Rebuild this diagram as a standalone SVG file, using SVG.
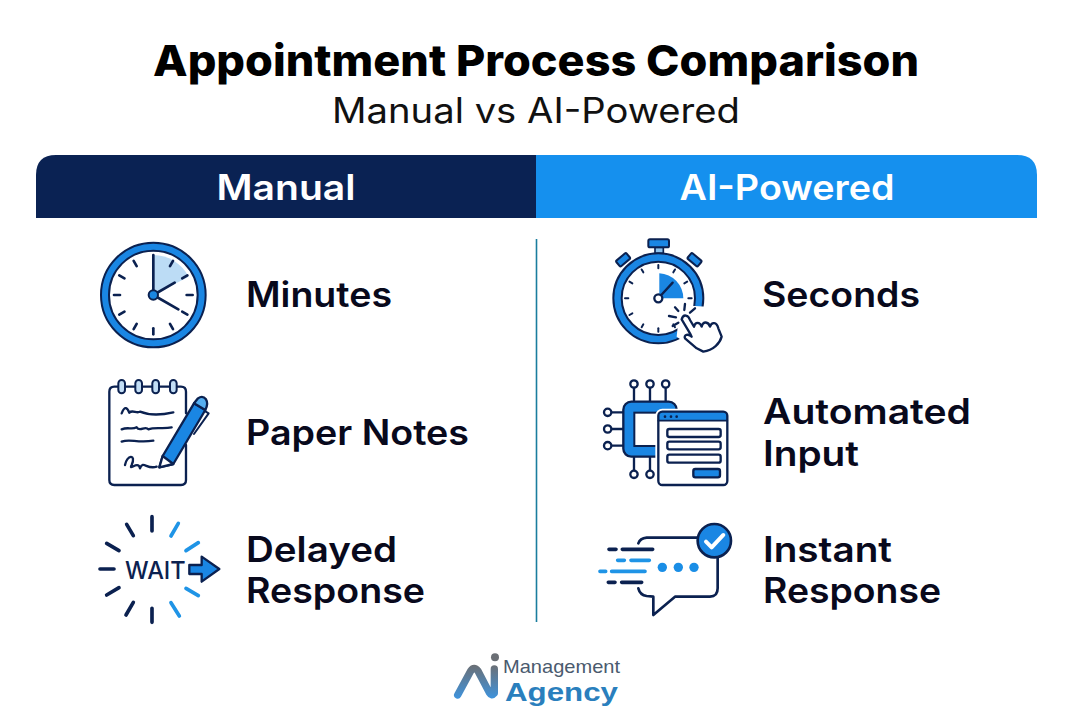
<svg xmlns="http://www.w3.org/2000/svg" xmlns:xlink="http://www.w3.org/1999/xlink" width="1073" height="720" viewBox="0 0 1073 720">
<style>
text{font-family:"Inter","Open Sans","Liberation Sans",sans-serif}
.lab{font-size:35px;font-weight:600;fill:#08091c}
.hd{font-size:35px;font-weight:600;fill:#fff;text-anchor:middle}
.logo{font-family:"Liberation Sans",Arial,sans-serif}
.n{fill:none;stroke:#0b2150;stroke-linecap:round;stroke-linejoin:round}
.b{fill:#1a86e3;stroke:#0b2150;stroke-linecap:round;stroke-linejoin:round}
.bl{fill:none;stroke:#1f94e6;stroke-linecap:round}
</style>
<defs>
<linearGradient id="lg" gradientUnits="userSpaceOnUse" x1="0" y1="60" x2="0" y2="160"><stop offset="0" stop-color="#6b6f75"/><stop offset="1" stop-color="#3f93dc"/></linearGradient>
<g id="t1"><line x1="0" y1="-118" x2="0" y2="-100" stroke="#0b2150" stroke-width="8" stroke-linecap="round"/></g>
<g id="t2"><line x1="0" y1="-100" x2="0" y2="-90" stroke="#0b2150" stroke-width="6" stroke-linecap="round"/></g>
</defs>
<rect width="1073" height="720" fill="#fff"/>

<g id="title">
<text x="536" y="76" font-size="43" font-weight="800" fill="#000" text-anchor="middle" textLength="766" lengthAdjust="spacingAndGlyphs">Appointment Process Comparison</text>
<text x="536" y="123" font-size="35" font-weight="400" fill="#111" text-anchor="middle" textLength="408" lengthAdjust="spacingAndGlyphs">Manual vs AI-Powered</text>
</g>

<g id="header-manual">
<path d="M36 218V175Q36 155 56 155H536V218Z" fill="#0a2253"/>
<text class="hd" x="286" y="200" textLength="139" lengthAdjust="spacingAndGlyphs">Manual</text>
</g>
<g id="header-ai">
<path d="M536 155H1017Q1037 155 1037 175V218H536Z" fill="#1590ee"/>
<text class="hd" x="787" y="200" textLength="215" lengthAdjust="spacingAndGlyphs">AI-Powered</text>
</g>

<g id="connectors"><line x1="536.500" y1="239" x2="536.500" y2="622" stroke="#1a7d9e" stroke-width="1.600"/></g>

<g id="row-minutes">
<g transform="translate(90 230) scale(.3333)">
<circle cx="190" cy="195" r="145" fill="#fff" stroke="#1a86e3" stroke-width="24"/>
<circle cx="190" cy="195" r="157" class="n" stroke-width="6"/>
<circle cx="190" cy="195" r="133" class="n" stroke-width="6"/>
<path d="M190 195V75A120 120 0 0 1 296 140Z" fill="#bcdcf5"/>
<g transform="translate(190 195)">
<use xlink:href="#t1" transform="rotate(30)"/><use xlink:href="#t1" transform="rotate(60)"/><use xlink:href="#t1" transform="rotate(90)"/><use xlink:href="#t1" transform="rotate(120)"/><use xlink:href="#t1" transform="rotate(150)"/><use xlink:href="#t1" transform="rotate(180)"/><use xlink:href="#t1" transform="rotate(210)"/><use xlink:href="#t1" transform="rotate(240)"/><use xlink:href="#t1" transform="rotate(270)"/><use xlink:href="#t1" transform="rotate(300)"/><use xlink:href="#t1" transform="rotate(330)"/>
</g>
<path class="n" stroke-width="8" d="M190 195V75M190 195L254 158M190 195L265 238"/>
<circle cx="190" cy="195" r="14" class="b" stroke-width="6"/>
</g>
<text class="lab" x="246" y="307" textLength="146" lengthAdjust="spacingAndGlyphs">Minutes</text>
</g>

<g id="row-paper">
<g transform="translate(90 370) scale(.3333)">
<path class="n" stroke-width="7" fill="#fff" d="M288 130V65Q288 50 273 50H73Q58 50 58 65V330Q58 345 73 345H273Q288 345 288 330V225"/>
<g fill="#c3def5" stroke="#0b2150" stroke-width="6"><rect x="85" y="30" width="20" height="40" rx="10"/><rect x="136" y="30" width="20" height="40" rx="10"/><rect x="187" y="30" width="20" height="40" rx="10"/><rect x="240" y="30" width="20" height="40" rx="10"/></g>
<path class="n" stroke-width="7" d="M95 130C105 105 112 115 118 128C128 118 140 132 150 125C175 135 215 135 250 127M95 178C115 170 125 180 140 172C150 188 165 165 175 178C195 170 220 178 245 172M95 215C120 205 140 220 190 212M105 285C110 255 140 250 125 285C115 305 145 270 150 295C160 270 170 300 200 290"/>
<path d="M218 258L312 100L346 120L250 282L208 292Z" fill="#1a86e3" stroke="#0b2150" stroke-width="7" stroke-linejoin="round"/>
<path d="M218 258L250 282L208 292Z" fill="#fff" stroke="#0b2150" stroke-width="7" stroke-linejoin="round"/>
<path d="M312 100L324 85Q338 75 348 88Q356 100 346 120Z" fill="#55aef0" stroke="#0b2150" stroke-width="7" stroke-linejoin="round"/>
<path class="n" stroke-width="6" d="M346 124L356 130L312 192"/>
</g>
<text class="lab" x="246" y="445" textLength="223" lengthAdjust="spacingAndGlyphs">Paper Notes</text>
</g>

<g id="row-delayed">
<g transform="translate(90 505) scale(.3333)">
<path class="n" stroke-width="11" d="M186 35V78M110 58L130 92M50 115L87 137M30 192H72M50 270L87 248M108 330L130 292M186 310V352"/>
<path class="bl" stroke-width="11" d="M265 55L243 93M325 113L288 137M288 250L325 272M243 293L268 333"/>
<text x="105" y="222" font-size="74" font-weight="500" fill="#0b2150" textLength="182" lengthAdjust="spacingAndGlyphs">WAIT</text>
<path class="b" stroke-width="7" d="M298 180H335V155L388 192L335 230V207H298Z"/>
</g>
<text class="lab" x="246" y="562" textLength="151" lengthAdjust="spacingAndGlyphs">Delayed</text>
<text class="lab" x="246" y="603" textLength="179" lengthAdjust="spacingAndGlyphs">Response</text>
</g>

<g id="row-seconds">
<g transform="translate(600 230) scale(.3333)">
<rect x="165" y="52" width="25" height="18" fill="#8cc4ef" stroke="#0b2150" stroke-width="5"/>
<rect x="145" y="28" width="62" height="24" rx="5" class="b" stroke-width="6"/>
<g transform="rotate(-40 70 90)"><rect x="50" y="78" width="40" height="22" rx="4" class="b" stroke-width="6"/></g>
<g transform="rotate(40 283 90)"><rect x="263" y="78" width="40" height="22" rx="4" class="b" stroke-width="6"/></g>
<circle cx="175" cy="205" r="122" fill="#fff" stroke="#1a86e3" stroke-width="24"/>
<circle cx="175" cy="205" r="135" class="n" stroke-width="6"/>
<circle cx="175" cy="205" r="110" class="n" stroke-width="6"/>
<path d="M178 205V130A75 75 0 0 1 250 205Z" fill="#1a86e3"/>
<g transform="translate(175 205)"><use xlink:href="#t2" transform="rotate(0)"/><use xlink:href="#t2" transform="rotate(30)"/><use xlink:href="#t2" transform="rotate(60)"/><use xlink:href="#t2" transform="rotate(90)"/><use xlink:href="#t2" transform="rotate(150)"/><use xlink:href="#t2" transform="rotate(180)"/><use xlink:href="#t2" transform="rotate(210)"/><use xlink:href="#t2" transform="rotate(240)"/><use xlink:href="#t2" transform="rotate(270)"/><use xlink:href="#t2" transform="rotate(300)"/><use xlink:href="#t2" transform="rotate(330)"/></g>
<line x1="175" y1="205" x2="218" y2="158" class="n" stroke-width="7"/>
<circle cx="175" cy="205" r="12" fill="#fff" stroke="#0b2150" stroke-width="7"/>
<path d="M240 225L320 230L380 330L310 375L230 320Z" fill="#fff"/>
<path class="n" stroke-width="7" d="M225 232L235 243M255 222L253 240M285 235L270 248M207 258L228 262M218 288L235 278"/>
<path fill="#fff" stroke="#0b2150" stroke-width="7" stroke-linejoin="round" d="M245 268C250 250 265 255 270 270L282 290C285 275 300 275 305 290C310 272 325 275 330 290C335 275 350 275 355 295L365 320C360 340 340 360 310 365L290 355L255 325C250 315 265 310 275 320L270 310Z"/>
</g>
<text class="lab" x="762" y="307" textLength="158" lengthAdjust="spacingAndGlyphs">Seconds</text>
</g>

<g id="row-automated">
<g transform="translate(595 370) scale(.3333)">
<path class="n" stroke-width="7" d="M117 53V95M165 53V95M212 53V95M49 127H85M49 177H85M49 227H85M117 260V302M165 260V302"/>
<g fill="#fff" stroke="#0b2150" stroke-width="7"><circle cx="117" cy="42" r="11"/><circle cx="165" cy="42" r="11"/><circle cx="212" cy="42" r="11"/><circle cx="38" cy="127" r="11"/><circle cx="38" cy="177" r="11"/><circle cx="38" cy="227" r="11"/><circle cx="117" cy="313" r="11"/><circle cx="165" cy="313" r="11"/></g>
<rect x="85" y="95" width="160" height="165" rx="24" class="b" stroke-width="7"/>
<rect x="118" y="128" width="90" height="100" fill="#fff" stroke="#0b2150" stroke-width="6"/>
<rect x="190" y="125" width="207" height="220" rx="12" fill="#fff" stroke="#fff" stroke-width="18"/>
<path d="M190 150V137Q190 125 202 125H385Q397 125 397 137V150Z" fill="#1a86e3"/>
<rect x="190" y="125" width="207" height="220" rx="12" class="n" stroke-width="7"/>
<line x1="190" y1="152" x2="397" y2="152" class="n" stroke-width="5"/>
<g fill="#0b2150"><circle cx="210" cy="140" r="4"/><circle cx="228" cy="140" r="4"/><circle cx="245" cy="140" r="4"/></g>
<g class="n" stroke-width="7"><rect x="217" y="177" width="160" height="24" rx="6"/><rect x="217" y="215" width="160" height="23" rx="6"/><rect x="217" y="254" width="160" height="24" rx="6"/></g>
<rect x="295" y="297" width="80" height="25" rx="6" class="b" stroke-width="7"/>
</g>
<text class="lab" x="763" y="424" textLength="208" lengthAdjust="spacingAndGlyphs">Automated</text>
<text class="lab" x="763" y="466" textLength="96" lengthAdjust="spacingAndGlyphs">Input</text>
</g>

<g id="row-instant">
<g transform="translate(595 510) scale(.3333)">
<path class="n" stroke-width="8" d="M130 100Q135 85 155 83H310M368 145V235Q368 260 345 260H240L175 315V260L155 258Q135 255 130 235"/>
<path class="n" stroke-width="11" d="M42 118H63M82 118H173M40 217H60M80 217H140"/>
<path class="bl" stroke-width="11" d="M68 151H88M108 151H163M15 184H32M50 184H150"/>
<g fill="#1a8ee6"><circle cx="202" cy="172" r="14"/><circle cx="250" cy="172" r="14"/><circle cx="297" cy="172" r="14"/></g>
<circle cx="358" cy="92" r="50" fill="#1a86e3" stroke="#0b2150" stroke-width="8"/>
<path d="M333 95L350 112L385 75" fill="none" stroke="#fff" stroke-width="12" stroke-linecap="round" stroke-linejoin="round"/>
</g>
<text class="lab" x="763" y="562" textLength="129" lengthAdjust="spacingAndGlyphs">Instant</text>
<text class="lab" x="763" y="603" textLength="178" lengthAdjust="spacingAndGlyphs">Response</text>
</g>

<g id="logo">
<g transform="translate(440 645) scale(.3333)">
<path d="M53 150L92 78Q102 62 114 78L148 143Q155 155 163 145V72" fill="none" stroke="url(#lg)" stroke-width="22" stroke-linecap="round" stroke-linejoin="round"/>
<circle cx="165" cy="37" r="12" fill="#6b6f75"/>
</g>
<text class="logo" x="503" y="673" font-size="18.500" fill="#4a5a6e" textLength="117" lengthAdjust="spacingAndGlyphs">Management</text>
<text class="logo" x="505" y="701" font-size="26" font-weight="700" fill="#2a7fbd" textLength="113" lengthAdjust="spacingAndGlyphs">Agency</text>
</g>
</svg>
